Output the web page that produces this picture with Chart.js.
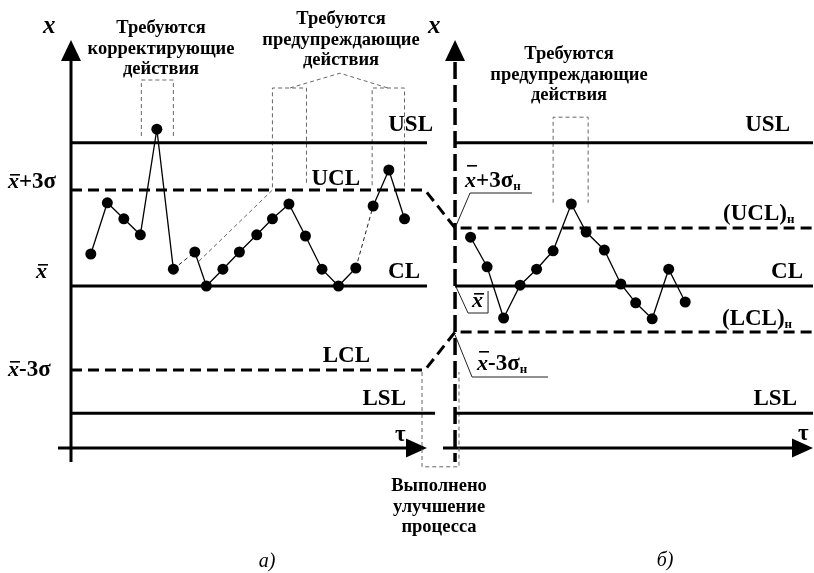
<!DOCTYPE html>
<html>
<head>
<meta charset="utf-8">
<script src="https://cdn.jsdelivr.net/npm/chart.js@4/dist/chart.umd.min.js"></script>
<style>
  html, body { margin: 0; padding: 0; background: #fff; }
  #wrap { width: 814px; height: 573px; }
</style>
</head>
<body>
<div id="wrap"><canvas id="chart" width="814" height="573"></canvas></div>
<script>
// Panel а: sample times and subgroup means before the improvement
const timeA = [1, 2, 3, 4, 5, 6, 7.3, 8, 9, 10, 11.05, 12, 13, 14, 15, 16, 17.05, 18.1, 19.05, 20];
const meanA = [4.0, 10.4, 8.4, 6.4, 19.6, 2.1, 4.25, 0, 2.1, 4.25, 6.4, 8.4, 10.25, 6.25, 2.1, 0, 2.25, 10.0, 14.5, 8.4];
// Panel б: after the improvement
const timeB = [24, 25, 26, 27, 28, 29, 30.1, 31, 32.1, 33.1, 34, 35, 36, 37];
const meanB = [6.1, 2.4, -4.0, 0.1, 2.1, 4.4, 10.25, 6.75, 4.5, 0.25, -2.1, -4.1, 2.1, -2.0];

// Specification and control limits (USL, UCL, CL, LCL, LSL)
const limitNamesA = ['USL', 'UCL', 'CL', 'LCL', 'LSL'];
const limitsA = [17.9, 12, 0, -10.5, -15.9];
const limitNamesB = ['USL', '(UCL)', 'CL', '(LCL)', 'LSL'];
const limitsB = [17.9, 7.25, 0, -5.75, -15.9];

// segments (index of first point) joined by a thin dashed stroke
const dashedSegA = [5, 16];

// sample ranges flagged for action: [first, last] index
const flagA = [[3, 5], [11, 13], [17, 19]];
const flagB = [[5, 7]];

// geometry of the two panels in data units
const axisA = -0.2, axisB = 23.06, tauLevel = -20.25;
const endA = 21.36, endB = 44.74;

const SERIF = "'Liberation Serif', 'Times New Roman', serif";
const F_BIG = `bold 23px ${SERIF}`;
const F_IT = `italic bold 22px ${SERIF}`;
const F_AX = `italic bold 25px ${SERIF}`;
const F_SUB = `bold 13px ${SERIF}`;
const F_NOTE = `bold 18.5px ${SERIF}`;
const F_CAP = `italic 20px ${SERIF}`;

function seg(xs, y) { return xs.map(x => ({ x, y })); }

const lineStyle = { showLine: true, pointRadius: 0, borderColor: '#000', borderWidth: 3, order: 2, fill: false };
const dashStyle = Object.assign({}, lineStyle, { borderDash: [11, 6] });

const datasets = [
  Object.assign({ data: timeA.map((t, i) => ({ x: t, y: meanA[i] })) }, {
    showLine: true, borderColor: '#000', borderWidth: 1.3, pointRadius: 5.5,
    pointBackgroundColor: '#000', pointBorderWidth: 0, order: 0,
    segment: {
      borderDash: c => dashedSegA.includes(c.p0DataIndex) ? [4, 3] : undefined,
      borderWidth: c => dashedSegA.includes(c.p0DataIndex) ? 1 : undefined,
      borderColor: c => dashedSegA.includes(c.p0DataIndex) ? '#222' : undefined
    }
  }),
  Object.assign({ data: timeB.map((t, i) => ({ x: t, y: meanB[i] })) }, {
    showLine: true, borderColor: '#000', borderWidth: 1.3, pointRadius: 5.5,
    pointBackgroundColor: '#000', pointBorderWidth: 0, order: 0
  }),
  // USL
  Object.assign({ data: seg([axisA, endA], limitsA[0]) }, lineStyle),
  Object.assign({ data: seg([axisB, endB], limitsB[0]) }, lineStyle),
  // UCL carried over to the new (UCL)н
  Object.assign({ data: [{ x: axisA, y: limitsA[1] }, { x: 21.24, y: limitsA[1] }, { x: axisB, y: limitsB[1] }, { x: endB, y: limitsB[1] }] }, dashStyle),
  // CL
  Object.assign({ data: seg([axisA, endA], limitsA[2]) }, lineStyle),
  Object.assign({ data: seg([axisB, endB], limitsB[2]) }, lineStyle),
  // LCL carried over to the new (LCL)н
  Object.assign({ data: [{ x: axisA, y: limitsA[3] }, { x: 21.24, y: limitsA[3] }, { x: axisB, y: limitsB[3] }, { x: endB, y: limitsB[3] }] }, dashStyle),
  // LSL
  Object.assign({ data: seg([axisA, 21.85], limitsA[4]) }, lineStyle),
  Object.assign({ data: seg([23.0, endB], limitsB[4]) }, lineStyle)
];

function rich(ctx, x, y, parts, align) {
  let w = 0;
  for (const p of parts) { ctx.font = p.f; p.w = ctx.measureText(p.t).width; w += p.w; }
  let cx = align === 'right' ? x - w : align === 'center' ? x - w / 2 : x;
  for (const p of parts) {
    ctx.font = p.f;
    ctx.fillText(p.t, cx, y + (p.dy || 0));
    if (p.over) ctx.fillRect(cx + 2, y + p.over, p.w - 1, 1.6);
    cx += p.w;
  }
}

function poly(ctx, pts) {
  ctx.beginPath();
  ctx.moveTo(pts[0][0], pts[0][1]);
  for (let i = 1; i < pts.length; i++) ctx.lineTo(pts[i][0], pts[i][1]);
  ctx.stroke();
}

const diagram = {
  id: 'diagram',
  beforeDatasetsDraw(chart) {
    const { ctx, scales } = chart;
    const X = v => scales.x.getPixelForValue(v), Y = v => scales.y.getPixelForValue(v);
    ctx.save();
    ctx.fillStyle = '#000';
    ctx.strokeStyle = '#000';
    // vertical axis of panel а
    ctx.lineWidth = 3;
    poly(ctx, [[X(axisA), Y(-22)], [X(axisA), Y(28.3)]]);
    // vertical axis of panel б (dashed)
    ctx.lineWidth = 3.5;
    ctx.setLineDash([17, 6]);
    poly(ctx, [[X(axisB), Y(28.0)], [X(axisB), Y(-22)]]);
    ctx.setLineDash([]);
    // arrow heads on vertical axes
    for (const ax of [axisA, axisB]) {
      const tx = X(ax), ty = Y(30.75);
      ctx.beginPath();
      ctx.moveTo(tx, ty); ctx.lineTo(tx - 10, ty + 21); ctx.lineTo(tx + 10, ty + 21); ctx.closePath();
      ctx.fill();
    }
    // time axes
    ctx.lineWidth = 3;
    const tauY = Y(tauLevel);
    const tauSpans = [[-0.99, endA], [22.33, endB]];
    for (const [a, b] of tauSpans) {
      poly(ctx, [[X(a), tauY], [X(b) - 18, tauY]]);
      ctx.beginPath();
      ctx.moveTo(X(b), tauY); ctx.lineTo(X(b) - 21, tauY - 9.5); ctx.lineTo(X(b) - 21, tauY + 9.5); ctx.closePath();
      ctx.fill();
    }

    // dashed callout brackets
    ctx.strokeStyle = '#666';
    ctx.lineWidth = 1;
    ctx.setLineDash([4, 3]);
    const b1 = flagA[0];
    poly(ctx, [[X(timeA[b1[0]]) + 1, Y(18.75)], [X(timeA[b1[0]]) + 1, Y(25.75)], [X(timeA[b1[1]]), Y(25.75)], [X(timeA[b1[1]]), Y(18.75)]]);
    const b2 = flagA[1];
    poly(ctx, [[X(7.55), Y(3.1)], [X(timeA[b2[0]]), Y(limitsA[1])], [X(timeA[b2[0]]), Y(24.75)], [X(timeA[b2[1]]) + 1, Y(24.75)], [X(timeA[b2[1]]) + 1, Y(12.6)]]);
    const b3 = flagA[2];
    poly(ctx, [[X(timeA[b3[0]]) - 1, Y(12.6)], [X(timeA[b3[0]]) - 1, Y(24.75)], [X(timeA[b3[1]]), Y(24.75)], [X(timeA[b3[1]]), Y(12.4)]]);
    poly(ctx, [[X(13.06), Y(24.75)], [X(16.09), Y(26.6)], [X(19.0), Y(24.75)]]);
    const b4 = flagB[0];
    poly(ctx, [[X(timeB[b4[0]]), Y(10.4)], [X(timeB[b4[0]]), Y(21.1)], [X(timeB[b4[1]]) + 2, Y(21.1)], [X(timeB[b4[1]]) + 2, Y(10.4)]]);
    // improvement marker between the panels
    poly(ctx, [[X(21.06), Y(-10.75)], [X(21.06), Y(-22.6)], [X(23.3), Y(-22.6)], [X(23.3), Y(-10.75)]]);
    ctx.setLineDash([]);

    // leaders for the new limits of panel б
    ctx.strokeStyle = '#222';
    ctx.lineWidth = 1;
    const bx = X(axisB);
    const yu = Y(limitsB[1]), yc = Y(limitsB[2]), yl = Y(limitsB[3]);
    poly(ctx, [[bx, yu], [bx + 15, yu - 35], [bx + 77, yu - 35]]);
    poly(ctx, [[bx + 1, yc + 1], [bx + 13, yc + 27], [bx + 33, yc + 27], [bx + 33, yc + 5]]);
    poly(ctx, [[bx, yl + 3], [bx + 17, yl + 45], [bx + 93, yl + 45]]);
    ctx.restore();
  },
  afterDatasetsDraw(chart) {
    const { ctx, scales } = chart;
    const X = v => scales.x.getPixelForValue(v), Y = v => scales.y.getPixelForValue(v);
    ctx.save();
    ctx.fillStyle = '#000';
    ctx.textBaseline = 'alphabetic';
    ctx.textAlign = 'left';
    const xa = X(axisA), xb = X(axisB);

    // axis names
    rich(ctx, xa - 28, 33, [{ t: 'x', f: F_AX }]);
    rich(ctx, xb - 27, 33, [{ t: 'x', f: F_AX }]);
    rich(ctx, X(endA) - 32, Y(tauLevel) - 7, [{ t: 'τ', f: F_BIG }]);
    rich(ctx, X(endB) - 15, Y(tauLevel) - 8, [{ t: 'τ', f: F_BIG }]);

    // panel а limit names
    rich(ctx, 433, Y(limitsA[0]) - 12, [{ t: limitNamesA[0], f: F_BIG }], 'right');
    rich(ctx, 360, Y(limitsA[1]) - 5, [{ t: limitNamesA[1], f: F_BIG }], 'right');
    rich(ctx, 420, Y(limitsA[2]) - 8, [{ t: limitNamesA[2], f: F_BIG }], 'right');
    rich(ctx, 370, Y(limitsA[3]) - 8, [{ t: limitNamesA[3], f: F_BIG }], 'right');
    rich(ctx, 406, Y(limitsA[4]) - 8, [{ t: limitNamesA[4], f: F_BIG }], 'right');

    // panel б limit names
    rich(ctx, 790, Y(limitsB[0]) - 12, [{ t: limitNamesB[0], f: F_BIG }], 'right');
    rich(ctx, 723, Y(limitsB[1]) - 8, [{ t: limitNamesB[1], f: F_BIG }, { t: 'н', f: F_SUB, dy: 3 }]);
    rich(ctx, 803, Y(limitsB[2]) - 8, [{ t: limitNamesB[2], f: F_BIG }], 'right');
    rich(ctx, 722, Y(limitsB[3]) - 7, [{ t: limitNamesB[3], f: F_BIG }, { t: 'н', f: F_SUB, dy: 3 }]);
    rich(ctx, 797, Y(limitsB[4]) - 8, [{ t: limitNamesB[4], f: F_BIG }], 'right');

    // level values at the left of panel а
    rich(ctx, xa - 63, Y(limitsA[1]) - 2, [{ t: 'x', f: F_IT, over: -14 }, { t: '+3σ', f: F_BIG }]);
    rich(ctx, xa - 35, Y(limitsA[2]) - 8, [{ t: 'x', f: F_IT, over: -14 }]);
    rich(ctx, xa - 63, Y(limitsA[3]) + 6, [{ t: 'x', f: F_IT, over: -15 }, { t: '-3σ', f: F_BIG }]);

    // level values of panel б
    rich(ctx, xb + 10, Y(limitsB[1]) - 41, [{ t: 'x', f: F_IT, over: -22 }, { t: '+3σ', f: F_BIG }, { t: 'н', f: F_SUB, dy: 3 }]);
    rich(ctx, xb + 17, Y(limitsB[2]) + 21, [{ t: 'x', f: F_IT, over: -14 }]);
    rich(ctx, xb + 22, Y(limitsB[3]) + 38, [{ t: 'x', f: F_IT, over: -19 }, { t: '-3σ', f: F_BIG }, { t: 'н', f: F_SUB, dy: 3 }]);

    // notes
    const note = (cx, y0, lines) => lines.forEach((s, i) => rich(ctx, cx, y0 + i * 20.5, [{ t: s, f: F_NOTE }], 'center'));
    note(161, 33, ['Требуются', 'корректирующие', 'действия']);
    note(341, 24, ['Требуются', 'предупреждающие', 'действия']);
    note(569, 59, ['Требуются', 'предупреждающие', 'действия']);
    note(439, 491, ['Выполнено', 'улучшение', 'процесса']);

    // panel captions
    rich(ctx, 267, 567, [{ t: 'а)', f: F_CAP }], 'center');
    rich(ctx, 665, 566, [{ t: 'б)', f: F_CAP }], 'center');
    ctx.restore();
  }
};

new Chart(document.getElementById('chart'), {
  type: 'scatter',
  data: { datasets },
  options: {
    responsive: false,
    animation: false,
    devicePixelRatio: 1,
    layout: { padding: 0, autoPadding: false },
    plugins: { legend: { display: false }, tooltip: { enabled: false } },
    scales: {
      x: { type: 'linear', display: false, min: -4.5, max: 44.8 },
      y: { type: 'linear', display: false, min: -35.875, max: 35.75 }
    }
  },
  plugins: [diagram]
});
</script>
</body>
</html>
